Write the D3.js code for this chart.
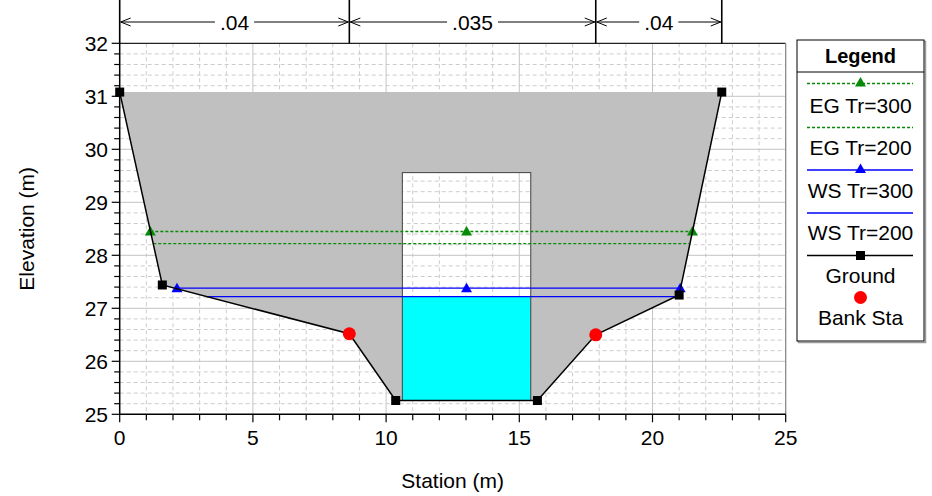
<!DOCTYPE html>
<html>
<head>
<meta charset="utf-8">
<script src="https://cdn.jsdelivr.net/npm/d3@7"></script>
<style>
  body { margin: 0; background: #fff; }
  svg { display: block; font-family: "Liberation Sans", Arial, sans-serif; }
</style>
</head>
<body>
<svg id="chart" width="932" height="496"></svg>
<script>
// ---------------- data ----------------
const groundSta  = [0, 1.6, 8.62, 10.36, 15.68, 17.87, 21.0, 22.6];
const groundElev = [31.08, 27.44, 26.52, 25.26, 25.26, 26.5, 27.25, 31.08];

const bankSta  = [8.62, 17.87];
const bankElev = [26.52, 26.5];

const culvertSta  = [10.61, 15.43];
const culvertElev = [25.26, 29.56];
const culvertWater = 27.22;

const eg300Sta = [1.15, 13.02, 21.5];   const eg300Elev = 28.45;
const eg200Sta = [1.26, 21.37];         const eg200Elev = 28.22;
const ws300Sta = [2.15, 13.02, 21.04];  const ws300Elev = 27.38;
const ws200Sta = [3.27, 20.88];         const ws200Elev = 27.22;

const roughBreaks = [0, 8.62, 17.87, 22.6];
const roughLabels = [".04", ".035", ".04"];

const xTicks = [0, 5, 10, 15, 20, 25];
const yTicks = [25, 26, 27, 28, 29, 30, 31, 32];

const legendLabels = ["EG Tr=300", "EG Tr=200", "WS Tr=300", "WS Tr=200", "Ground", "Bank Sta"];

// ---------------- layout ----------------
const svg = d3.select("#chart");
const L = 119.7, R = 785.7, T = 43.3, B = 414.3;
const x = d3.scaleLinear().domain([0, 25]).range([L, R]);
const y = d3.scaleLinear().domain([25, 32]).range([B, T]);

const GREEN = "#078a07", BLUE = "#0000ff";
const FS = 21;

// grid
const grid = svg.append("g");
d3.range(1, 25).forEach(v => {
  const major = v % 5 === 0;
  grid.append("line").attr("x1", x(v)).attr("x2", x(v)).attr("y1", T).attr("y2", B)
    .attr("stroke", major ? "#c4c4c4" : "#cccccc").attr("stroke-width", 1)
    .attr("stroke-dasharray", major ? null : "4,3");
});
d3.range(25.2, 32, 0.2).forEach(v => {
  const major = Math.abs(v - Math.round(v)) < 1e-6;
  grid.append("line").attr("x1", L).attr("x2", R).attr("y1", y(v)).attr("y2", y(v))
    .attr("stroke", major ? "#c4c4c4" : "#cccccc").attr("stroke-width", 1)
    .attr("stroke-dasharray", major ? null : "4,3");
});

// embankment fill with culvert opening
const groundPts = groundSta.map((s, i) => [x(s), y(groundElev[i])]);
let path = "M" + groundPts.map(p => p.join(",")).join("L") + "Z";
path += `M${x(culvertSta[0])},${y(culvertElev[0])}L${x(culvertSta[1])},${y(culvertElev[0])}L${x(culvertSta[1])},${y(culvertElev[1])}L${x(culvertSta[0])},${y(culvertElev[1])}Z`;
svg.append("path").attr("d", path).attr("fill", "#c0c0c0").attr("fill-rule", "evenodd");

// water in culvert
svg.append("rect")
  .attr("x", x(culvertSta[0])).attr("y", y(culvertWater))
  .attr("width", x(culvertSta[1]) - x(culvertSta[0]))
  .attr("height", y(culvertElev[0]) - y(culvertWater))
  .attr("fill", "#00ffff");

// culvert outline
svg.append("rect")
  .attr("x", x(culvertSta[0])).attr("y", y(culvertElev[1]))
  .attr("width", x(culvertSta[1]) - x(culvertSta[0]))
  .attr("height", y(culvertElev[0]) - y(culvertElev[1]))
  .attr("fill", "none").attr("stroke", "#404040").attr("stroke-width", 1);

// marker helpers
function tri(g, cx, cy, color) {
  g.append("path").attr("d", `M${cx},${cy - 5.5}L${cx + 5.5},${cy + 4}L${cx - 5.5},${cy + 4}Z`).attr("fill", color);
}
function sq(g, cx, cy) {
  g.append("rect").attr("x", cx - 4.5).attr("y", cy - 4.5).attr("width", 9).attr("height", 9).attr("fill", "#000");
}

// profile lines
const lines = svg.append("g");
function hline(sta, elev, color, dashed, markers) {
  lines.append("line").attr("x1", x(sta[0])).attr("x2", x(sta[sta.length - 1]))
    .attr("y1", y(elev)).attr("y2", y(elev))
    .attr("stroke", color).attr("stroke-width", 1.4)
    .attr("stroke-dasharray", dashed ? "3,2" : null);
  if (markers) sta.forEach(s => tri(lines, x(s), y(elev), color));
}
hline(eg200Sta, eg200Elev, GREEN, true, false);
hline(eg300Sta, eg300Elev, GREEN, true, true);
hline(ws200Sta, ws200Elev, BLUE, false, false);
hline(ws300Sta, ws300Elev, BLUE, false, true);

// ground line
svg.append("path").attr("d", d3.line()(groundPts)).attr("fill", "none")
  .attr("stroke", "#000").attr("stroke-width", 1.5);
[0, 1, 3, 4, 6, 7].forEach(i => sq(svg, groundPts[i][0], groundPts[i][1]));

// bank stations
bankSta.forEach((s, i) => {
  svg.append("circle").attr("cx", x(s)).attr("cy", y(bankElev[i])).attr("r", 6.5).attr("fill", "#ff0000");
});

// frame
svg.append("line").attr("x1", L).attr("x2", R).attr("y1", T).attr("y2", T).attr("stroke", "#222").attr("stroke-width", 1.3);
svg.append("line").attr("x1", R).attr("x2", R).attr("y1", T).attr("y2", B).attr("stroke", "#8a8a8a").attr("stroke-width", 1.3);
svg.append("line").attr("x1", L).attr("x2", L).attr("y1", T).attr("y2", B).attr("stroke", "#000").attr("stroke-width", 1.5);
svg.append("line").attr("x1", L).attr("x2", R).attr("y1", B).attr("y2", B).attr("stroke", "#000").attr("stroke-width", 1.5);

// ticks
const tk = svg.append("g").attr("stroke", "#000").attr("stroke-width", 1.2);
d3.range(0, 26).forEach(v => {
  const major = v % 5 === 0;
  tk.append("line").attr("x1", x(v)).attr("x2", x(v)).attr("y1", B).attr("y2", B + (major ? 8 : 6));
});
d3.range(25, 32.01, 0.2).forEach(v => {
  const major = Math.abs(v - Math.round(v)) < 1e-6;
  tk.append("line").attr("x1", L - (major ? 8 : 5.5)).attr("x2", L).attr("y1", y(v)).attr("y2", y(v));
});

// tick labels
svg.append("g").selectAll("text").data(xTicks).join("text")
  .attr("x", d => x(d)).attr("y", 445).attr("text-anchor", "middle")
  .attr("font-size", FS).text(d => d);
svg.append("g").selectAll("text").data(yTicks).join("text")
  .attr("x", 108).attr("y", d => y(d) + 7.5).attr("text-anchor", "end")
  .attr("font-size", FS).text(d => d);

// axis titles
svg.append("text").attr("x", (L + R) / 2).attr("y", 488).attr("text-anchor", "middle")
  .attr("font-size", FS).text("Station (m)");
svg.append("text").attr("transform", `translate(34,${(T + B) / 2}) rotate(-90)`)
  .attr("text-anchor", "middle").attr("font-size", FS).text("Elevation (m)");

// roughness annotation
const ann = svg.append("g");
const AY = 22;
roughBreaks.forEach(s => {
  ann.append("line").attr("x1", x(s)).attr("x2", x(s)).attr("y1", 0).attr("y2", T)
    .attr("stroke", "#000").attr("stroke-width", 1.6);
});
roughLabels.forEach((lab, i) => {
  const x0 = x(roughBreaks[i]), x1 = x(roughBreaks[i + 1]);
  const cx = (x0 + x1) / 2;
  const t = ann.append("text").attr("x", cx).attr("y", AY + 7.5).attr("text-anchor", "middle")
    .attr("font-size", FS).text(lab);
  const w = t.node().getComputedTextLength();
  const gap = w / 2 + 5;
  ann.append("line").attr("x1", x0 + 1).attr("x2", cx - gap).attr("y1", AY).attr("y2", AY).attr("stroke", "#000").attr("stroke-width", 1);
  ann.append("line").attr("x1", cx + gap).attr("x2", x1 - 1).attr("y1", AY).attr("y2", AY).attr("stroke", "#000").attr("stroke-width", 1);
  ann.append("path").attr("d", `M${x0 + 11},${AY - 4}L${x0 + 1},${AY}L${x0 + 11},${AY + 4}`)
    .attr("fill", "none").attr("stroke", "#000").attr("stroke-width", 1);
  ann.append("path").attr("d", `M${x1 - 11},${AY - 4}L${x1 - 1},${AY}L${x1 - 11},${AY + 4}`)
    .attr("fill", "none").attr("stroke", "#000").attr("stroke-width", 1);
});

// legend
const lg = svg.append("g");
const LX0 = 797, LX1 = 924, LY0 = 40, LY1 = 341;
lg.append("rect").attr("x", LX0 + 1.5).attr("y", LY0 + 1.5).attr("width", LX1 - LX0).attr("height", LY1 - LY0)
  .attr("fill", "none").attr("stroke", "#9a9a9a").attr("stroke-width", 1.5);
lg.append("rect").attr("x", LX0).attr("y", LY0).attr("width", LX1 - LX0).attr("height", LY1 - LY0)
  .attr("fill", "#fff").attr("stroke", "#000").attr("stroke-width", 1);
lg.append("line").attr("x1", LX0).attr("x2", LX1).attr("y1", 72).attr("y2", 72).attr("stroke", "#000").attr("stroke-width", 1);
const LCX = (LX0 + LX1) / 2;
lg.append("text").attr("x", LCX).attr("y", 63).attr("text-anchor", "middle")
  .attr("font-size", 20).attr("font-weight", "bold").text("Legend");
const symY = [83.5, 127.5, 170, 213, 255.5, 297.5];
const labY = [105, 147.5, 190, 232.5, 275, 317];
const sx0 = 807, sx1 = 913;
// EG300
lg.append("line").attr("x1", sx0).attr("x2", sx1).attr("y1", symY[0]).attr("y2", symY[0]).attr("stroke", GREEN).attr("stroke-width", 1.3).attr("stroke-dasharray", "3,2");
tri(lg, LCX, symY[0] - 1, GREEN);
// EG200
lg.append("line").attr("x1", sx0).attr("x2", sx1).attr("y1", symY[1]).attr("y2", symY[1]).attr("stroke", GREEN).attr("stroke-width", 1.3).attr("stroke-dasharray", "3,2");
// WS300
lg.append("line").attr("x1", sx0).attr("x2", sx1).attr("y1", symY[2]).attr("y2", symY[2]).attr("stroke", BLUE).attr("stroke-width", 1.3);
tri(lg, LCX, symY[2] - 1, BLUE);
// WS200
lg.append("line").attr("x1", sx0).attr("x2", sx1).attr("y1", symY[3]).attr("y2", symY[3]).attr("stroke", BLUE).attr("stroke-width", 1.3);
// Ground
lg.append("line").attr("x1", sx0).attr("x2", sx1).attr("y1", symY[4]).attr("y2", symY[4]).attr("stroke", "#000").attr("stroke-width", 1.3);
sq(lg, LCX, symY[4]);
// Bank Sta
lg.append("circle").attr("cx", LCX).attr("cy", symY[5]).attr("r", 6.5).attr("fill", "#ff0000");
legendLabels.forEach((t, i) => {
  lg.append("text").attr("x", LCX).attr("y", labY[i] + 7.5).attr("text-anchor", "middle")
    .attr("font-size", FS).text(t);
});
</script>
</body>
</html>
